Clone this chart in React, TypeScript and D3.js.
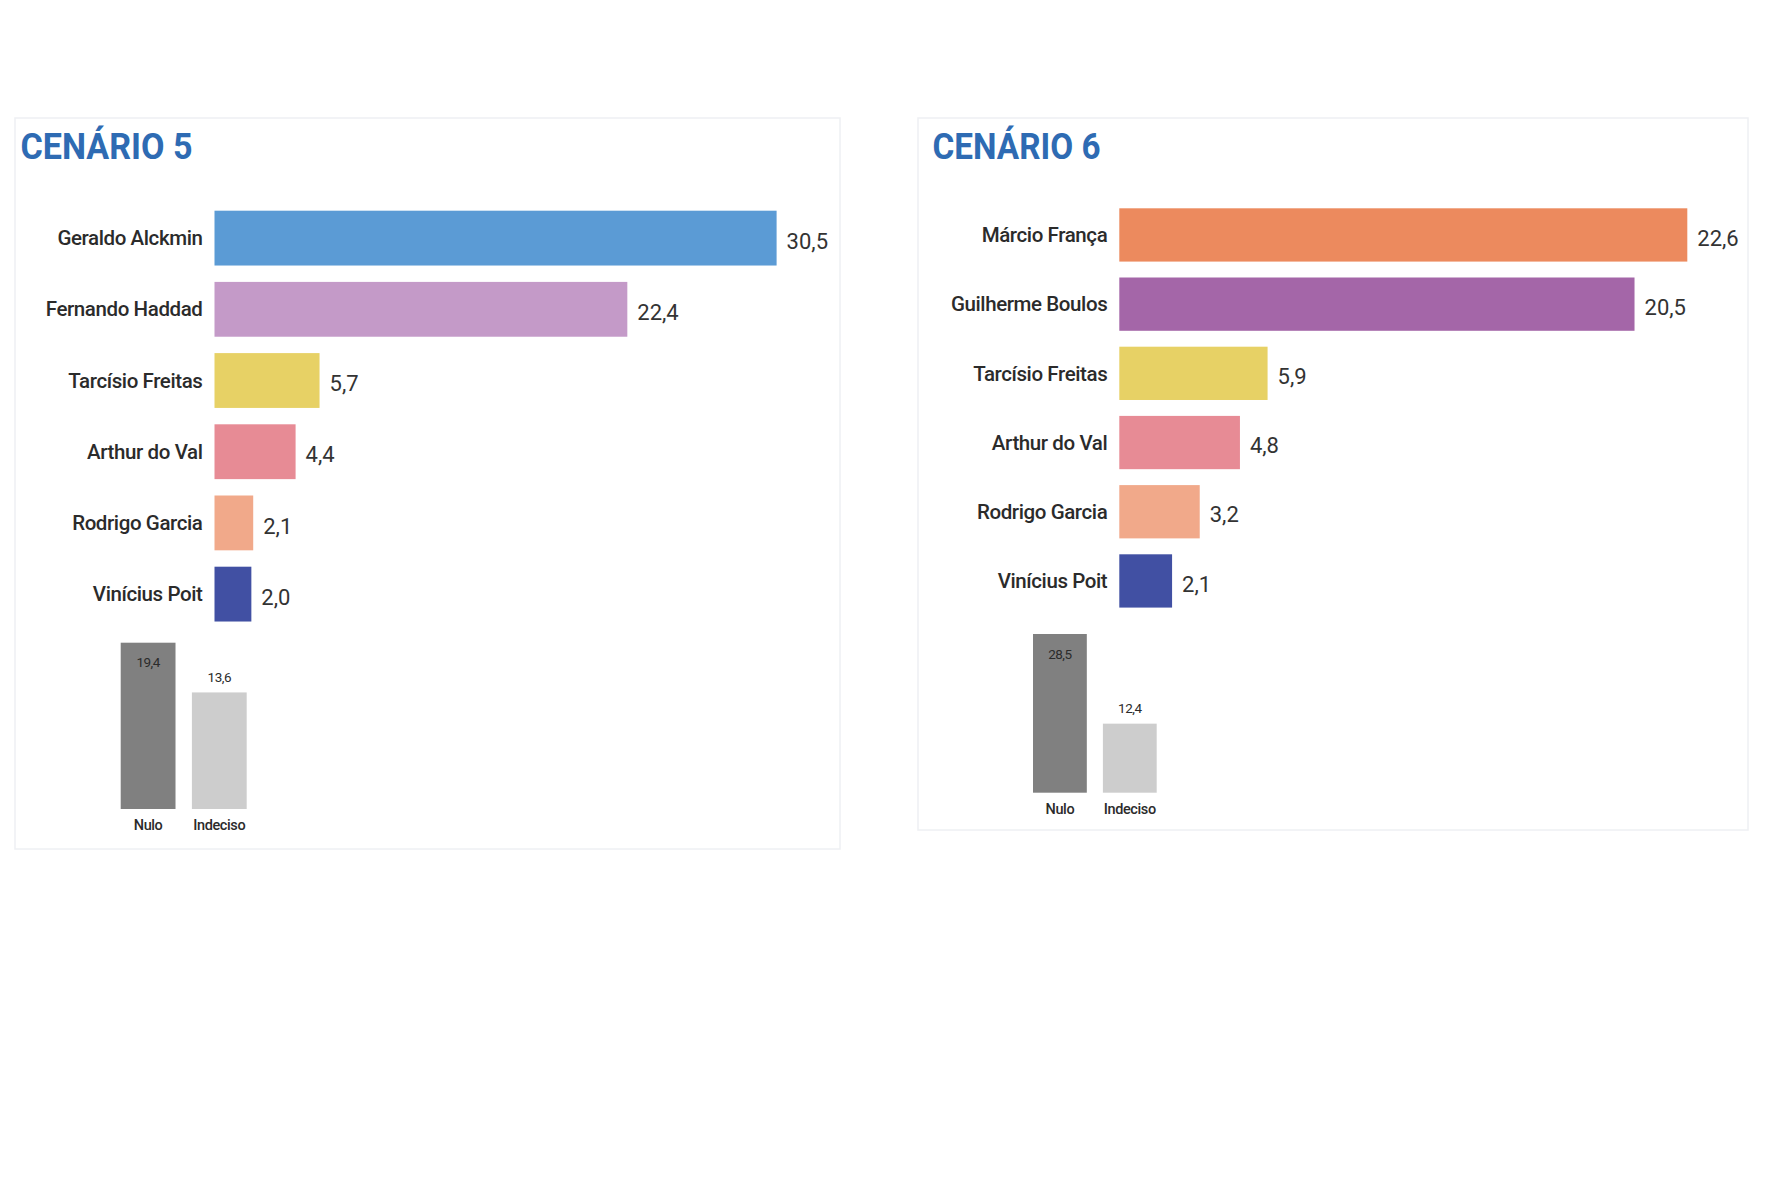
import * as d3 from 'd3'

// dados dos cenários
const cenario5Nomes = ['Geraldo Alckmin', 'Fernando Haddad', 'Tarcísio Freitas', 'Arthur do Val', 'Rodrigo Garcia', 'Vinícius Poit']
const cenario5Valores = [30.5, 22.4, 5.7, 4.4, 2.1, 2.0]
const cenario5Cores = ['#5b9bd5', '#c49ac8', '#e7d165', '#e78b95', '#f1a98a', '#4150a3']

const cenario6Nomes = ['Márcio França', 'Guilherme Boulos', 'Tarcísio Freitas', 'Arthur do Val', 'Rodrigo Garcia', 'Vinícius Poit']
const cenario6Valores = [22.6, 20.5, 5.9, 4.8, 3.2, 2.1]
const cenario6Cores = ['#ec8a5e', '#a466a8', '#e7d165', '#e78b95', '#f1a98a', '#4150a3']

const outrosCategorias = ['Nulo', 'Indeciso']
const cenario5Outros = [19.4, 13.6]
const cenario6Outros = [28.5, 12.4]
const outrosCores = ['#808080', '#cdcdcd']

const fmt = d3.formatLocale({ decimal: ',', thousands: '.', grouping: [3], currency: ['R$', ''] }).format('.1f')

const FONT = 'Roboto, "Noto Sans", sans-serif'

function Panel(props: any) {
    const { title, titleX, titleW, nomes, valores, cores, outros, frame, bar, small } = props

    const x = d3.scaleLinear()
        .domain([0, d3.max(valores) as number])
        .range([bar.x0, bar.x1])
    const y = d3.scaleBand()
        .domain(nomes)
        .range([bar.top - bar.step * 0.115, bar.top - bar.step * 0.115 + bar.step * nomes.length])
        .paddingInner(0.23)
        .paddingOuter(0.115)

    const sx = d3.scaleBand()
        .domain(outrosCategorias)
        .range([small.x0, small.x1])
        .paddingInner(0.23)
    const sy = d3.scaleLinear()
        .domain([0, d3.max(outros) as number])
        .range([small.bottom, small.bottom - small.h])

    return (
        <g>
            <rect x={frame.x} y={frame.y} width={frame.w} height={frame.h} fill="none" stroke="#eef0f3" strokeWidth={1.5} />
            <text x={titleX} y={159} fill="#2e6bb3" fontFamily={FONT} fontWeight={700} fontSize={37}
                textLength={titleW} lengthAdjust="spacingAndGlyphs">{title}</text>

            {nomes.map((n: string, i: number) => (
                <g key={n}>
                    <rect x={x(0)} y={y(n)} width={x(valores[i]) - x(0)} height={y.bandwidth()} fill={cores[i]} />
                    <text x={x(0) - 12} y={(y(n) as number) + y.bandwidth() / 2} dy="0.35em" textAnchor="end"
                        fontFamily={FONT} fontWeight={500} fontSize={20.5} letterSpacing={-0.4} fill="#2b2b2b">{n}</text>
                    <text x={x(valores[i]) + 10} y={(y(n) as number) + y.bandwidth() / 2 + 3} dy="0.35em"
                        fontFamily={FONT} fontSize={22} fill="#333">{fmt(valores[i])}</text>
                </g>
            ))}

            {outrosCategorias.map((c, i) => {
                const cx = (sx(c) as number) + sx.bandwidth() / 2
                const top = sy(outros[i])
                return (
                    <g key={c}>
                        <rect x={sx(c)} y={top} width={sx.bandwidth()} height={small.bottom - top} fill={outrosCores[i]} />
                        <text x={cx} y={i === 0 ? top + 20 : top - 15} dy="0.35em" textAnchor="middle"
                            fontFamily={FONT} fontSize={13.5} letterSpacing={-0.5} fill="#2b2b2b">{fmt(outros[i])}</text>
                        <text x={cx} y={small.bottom + 16} dy="0.35em" textAnchor="middle"
                            fontFamily={FONT} fontWeight={500} fontSize={14.5} letterSpacing={-0.4} fill="#2b2b2b">{c}</text>
                    </g>
                )
            })}
        </g>
    )
}

export default function App() {
    return (
        <svg width={1780} height={1186} style={{ position: 'absolute', left: 0, top: 0, background: '#fff' }}>
            <rect width={1780} height={1186} fill="#fff" />
            <Panel
                title="CENÁRIO 5" titleX={20.5} titleW={172}
                nomes={cenario5Nomes} valores={cenario5Valores} cores={cenario5Cores} outros={cenario5Outros}
                frame={{ x: 15, y: 118, w: 825, h: 731 }}
                bar={{ x0: 214.5, x1: 776.6, top: 210.7, step: 71.2 }}
                small={{ x0: 120.7, x1: 246.7, bottom: 809, h: 166.3 }}
            />
            <Panel
                title="CENÁRIO 6" titleX={932.5} titleW={168}
                nomes={cenario6Nomes} valores={cenario6Valores} cores={cenario6Cores} outros={cenario6Outros}
                frame={{ x: 918, y: 118, w: 830, h: 712 }}
                bar={{ x0: 1119.3, x1: 1687.3, top: 208.3, step: 69.2 }}
                small={{ x0: 1033, x1: 1156.7, bottom: 792.7, h: 158.7 }}
            />
        </svg>
    )
}
